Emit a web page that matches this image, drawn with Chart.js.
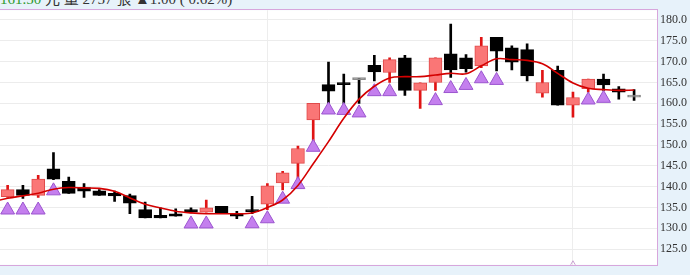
<!DOCTYPE html>
<html>
<head>
<meta charset="utf-8">
<script src="https://cdn.jsdelivr.net/npm/chart.js@4.4.0/dist/chart.umd.min.js"></script>
<style>
  html, body { margin: 0; padding: 0; background: #e7f2fa; }
  #wrap { position: relative; width: 690px; height: 275px; overflow: hidden; }
  #info { position: absolute; left: 0; top: -8px; font: 15px "Liberation Serif", "Noto Sans CJK TC", serif; line-height: 15px; color: #333; white-space: nowrap; }
  #info .px { color: #2e9b2e; }
  canvas { position: absolute; left: 0; top: 0; }
</style>
</head>
<body>
<div id="wrap">
  <div id="info"><span class="px">161.50</span> 元 量 2757 張 ▲1.00 ( 0.62%)</div>
  <canvas id="kchart" width="690" height="275"></canvas>
</div>
<script>
// daily candles
const opens  = [137.6, 139.3, 137.9, 144.3, 141.3, 139.8, 139.0, 138.4, 137.85, 134.5,
                133.1, 133.5, 134.5, 133.9, 135.3, 133.55, 134.2, 135.8, 140.9, 145.6,
                156.0, 164.5, 165.0, 165.7, 169.1, 167.4, 170.9, 163.1, 165.0, 171.9,
                170.9, 169.0, 175.85, 173.3, 172.9, 162.45, 167.9, 159.55, 163.5, 165.8,
                163.5, 161.5];
const highs  = [140.35, 140.35, 142.7, 148.2, 142.3, 140.75, 139.3, 138.95, 138.2, 136.3,
                134.9, 134.7, 134.9, 136.8, 135.3, 134.1, 137.7, 140.75, 143.7, 149.75,
                160.0, 169.9, 167.0, 166.0, 171.5, 170.9, 171.5, 164.9, 170.9, 179.0,
                171.7, 175.85, 175.85, 173.8, 174.3, 167.9, 168.95, 162.7, 165.8, 167.0,
                164.0, 163.3];
const lows   = [137.4, 137.2, 137.4, 141.7, 138.4, 137.4, 137.9, 136.45, 133.5, 132.5,
                132.5, 132.9, 133.7, 133.9, 133.7, 132.3, 133.5, 134.5, 139.2, 141.9,
                150.15, 160.0, 160.0, 160.0, 165.4, 165.0, 161.9, 158.8, 163.1, 166.2,
                167.5, 168.55, 167.8, 168.0, 165.4, 161.5, 159.55, 156.65, 162.7, 163.1,
                161.0, 160.7];
const closes = [139.3, 137.9, 141.8, 141.8, 138.4, 138.95, 137.9, 137.8, 136.05, 132.5,
                132.5, 132.9, 133.9, 134.9, 133.7, 132.9, 134.0, 140.2, 143.3, 149.15,
                160.0, 162.9, 164.5, 165.7, 167.55, 170.5, 163.1, 164.9, 170.9, 168.0,
                168.3, 173.8, 172.5, 169.9, 166.6, 165.0, 159.55, 161.4, 165.8, 164.4,
                162.7, 161.5];

// moving average, first value is the day before the first candle
const maValues = [136.4, 137.2, 137.8, 138.4, 139.4, 139.8, 139.7, 139.6, 138.9, 137.3,
                  135.8, 134.9, 134.1, 133.7, 133.5, 133.5, 133.5, 133.7, 135.0, 136.8,
                  140.3, 145.5, 150.8, 156.4, 161.0, 164.1, 166.1, 166.4, 166.4, 166.8,
                  167.2, 167.1, 169.0, 170.7, 170.5, 170.3, 169.5, 167.2, 164.9, 163.6,
                  163.3, 163.1, 163.2];

// buy signal triangles
const signalDays = [0, 1, 2, 3, 12, 13, 16, 17, 18, 19, 20, 21, 22, 23, 24, 25, 28, 29, 30, 31, 32, 38, 39];
const signalVals = [134.4, 134.4, 134.4, 139.0, 131.05, 131.05, 131.1, 132.3, 137.0, 140.5,
                    149.45, 158.4, 158.3, 157.7, 162.8, 162.8, 160.65, 163.55, 164.3, 165.9,
                    165.5, 160.8, 161.2];

// marker cut off by the bottom border
const bottomDays = [37];
const bottomVals = [120.3];

const yTicks = [125, 130, 135, 140, 145, 150, 155, 160, 165, 170, 175, 180];
const monthLines = [17, 37];

function bodyColor(i) {
    if (closes[i] > opens[i]) return '#fa7676';
    if (closes[i] < opens[i]) return '#000000';
    return '#8a8a8a';
}
function bodyBorder(i) {
    if (closes[i] > opens[i]) return '#e04a4a';
    if (closes[i] < opens[i]) return '#000000';
    return '#8a8a8a';
}
function wickColor(i) {
    return closes[i] > opens[i] ? '#e01414' : '#000000';
}

const frame = {
    id: 'frame',
    beforeDraw(chart) {
        const { ctx, chartArea: a } = chart;
        ctx.save();
        ctx.fillStyle = '#ffffff';
        ctx.fillRect(a.left, a.top, a.right - a.left, a.bottom - a.top);
        ctx.restore();
    },
    afterDraw(chart) {
        const { ctx, chartArea: a } = chart;
        ctx.save();
        ctx.strokeStyle = '#d7a6dc';
        ctx.lineWidth = 1;
        ctx.strokeRect(Math.round(a.left) - 0.5, Math.round(a.top) - 0.5,
                       Math.round(a.right - a.left) + 1, Math.round(a.bottom - a.top) + 1);
        ctx.restore();
    }
};

const ctx = document.getElementById('kchart').getContext('2d');
const kChart = new Chart(ctx, {
    type: 'bar',
    data: {
        datasets: [
        {
            // wicks
            type: 'bar',
            data: lows.map((l, i) => ({ x: i, y: [l, highs[i]] })),
            backgroundColor: lows.map((l, i) => wickColor(i)),
            borderWidth: 0,
            barThickness: 2,
            grouped: false,
            order: 4
        },
        {
            // bodies
            type: 'bar',
            data: opens.map((o, i) => ({ x: i, y: [o, closes[i]] })),
            backgroundColor: opens.map((o, i) => bodyColor(i)),
            borderColor: opens.map((o, i) => bodyBorder(i)),
            borderWidth: 1,
            borderSkipped: false,
            barThickness: 13,
            minBarLength: 2,
            grouped: false,
            order: 3
        },
        {
            type: 'line',
            data: signalDays.map((d, i) => ({ x: d, y: signalVals[i] })),
            showLine: false,
            pointStyle: 'triangle',
            pointRadius: 8,
            pointBackgroundColor: '#c47fee',
            pointBorderColor: '#9b55cf',
            pointBorderWidth: 1,
            order: 2
        },
        {
            type: 'line',
            data: maValues.map((v, i) => ({ x: i - 1, y: v })),
            borderColor: '#d40000',
            borderWidth: 1.6,
            tension: 0.35,
            pointRadius: 0,
            fill: false,
            order: 1
        },
        {
            type: 'line',
            data: bottomDays.map((d, i) => ({ x: d, y: bottomVals[i] })),
            showLine: false,
            pointStyle: 'triangle',
            pointRadius: 8,
            pointBackgroundColor: 'rgba(255,255,255,0)',
            pointBorderColor: '#c9a2d2',
            pointBorderWidth: 1,
            clip: 0,
            order: 0
        }
      ]
    },
    options: {
        responsive: false,
        animation: false,
        layout: { autoPadding: false, padding: { top: 8, bottom: 7, left: 0, right: 0 } },
        plugins: {
            legend: { display: false },
            tooltip: { enabled: false }
        },
        scales: {
            x: {
                type: 'linear',
                min: -0.5,
                max: 42.5,
                offset: false,
                grid: { color: '#ededed', drawTicks: false, offset: false },
                border: { display: false },
                ticks: { display: false },
                afterBuildTicks: s => { s.ticks = monthLines.map(v => ({ value: v })); },
                afterFit: s => { s.height = 0; }
            },
            y: {
                position: 'right',
                min: 121.25,
                max: 182.35,
                grid: { color: '#ececec', drawTicks: false },
                border: { display: false },
                ticks: {
                    padding: 3,
                    color: '#333333',
                    font: { family: 'Liberation Serif', size: 12 },
                    callback: v => Number(v).toFixed(1)
                },
                afterBuildTicks: s => { s.ticks = yTicks.map(v => ({ value: v })); },
                afterFit: s => { s.width = 33; }
            }
        }
    },
    plugins: [frame]
});
</script>
</body>
</html>
